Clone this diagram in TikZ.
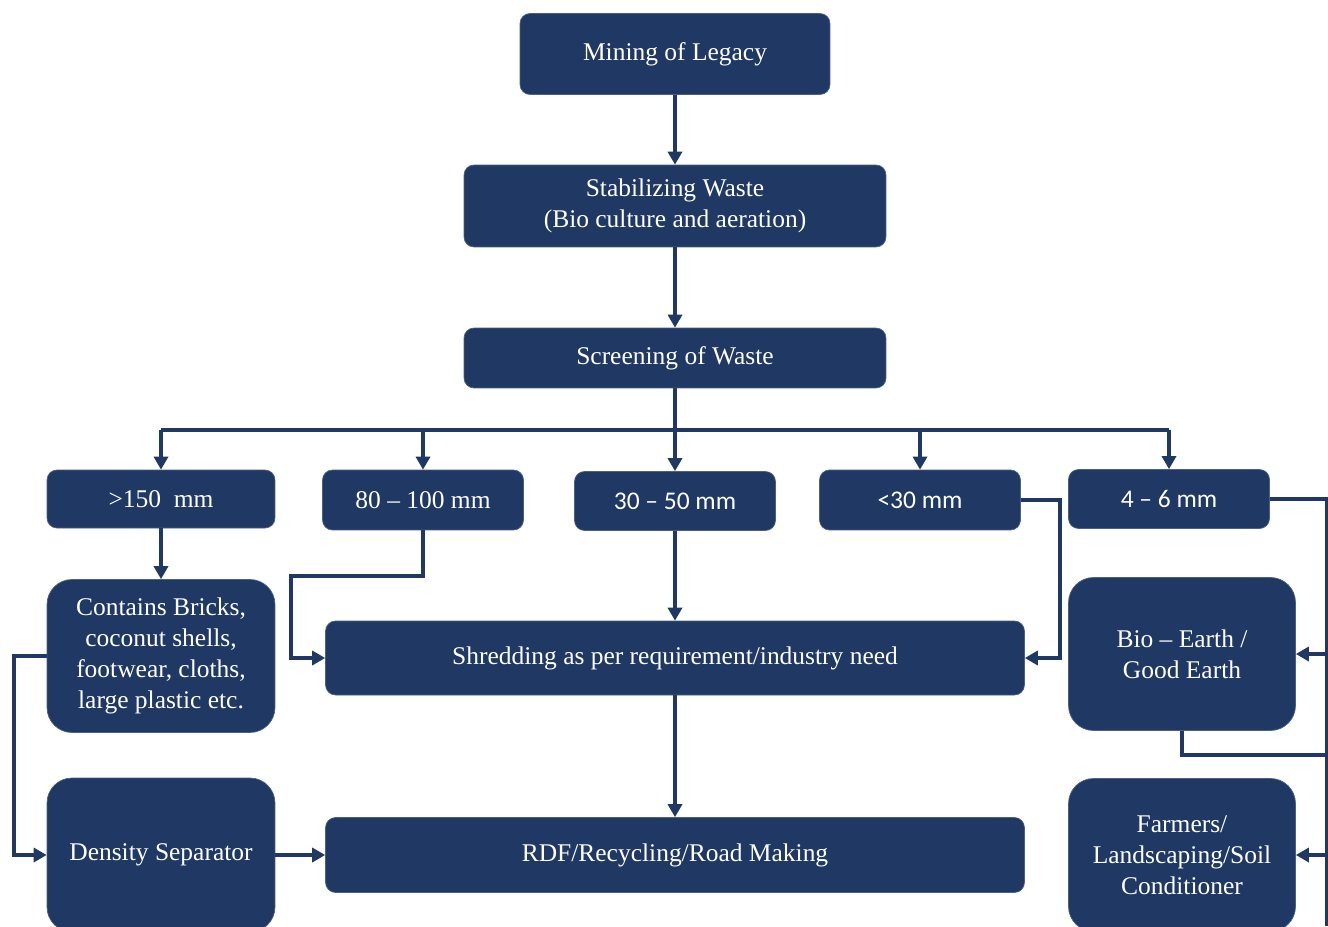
\documentclass[tikz,border=0pt]{standalone}
\usepackage{fontspec}
\setmainfont{Liberation Serif}
\newfontfamily\numfont{Carlito}
\usetikzlibrary{arrows.meta}
\definecolor{navy}{RGB}{31,56,100}

\begin{document}
\begin{tikzpicture}[x=0.02cm,y=-0.02cm,
    box/.style={fill=navy, draw=navy!80!white, rounded corners=0.2cm, text=white,
        align=center, inner sep=0pt, font=\fontsize{14.5}{17.5}\selectfont},
    bigbox/.style={box, rounded corners=0.5cm},
    numbox/.style={box, font=\numfont\fontsize{14.5}{17.5}\selectfont},
    link/.style={draw=navy, line width=2.2pt},
    >={Triangle[length=2.6mm,width=2.8mm]}]
    \clip (0,0) rectangle (1328,926);
    \fill[white] (0,0) rectangle (1328,926);

    \node[box, minimum width=6.2cm, minimum height=1.62cm] (mine) at (675,54) {Mining of Legacy};
    \node[box, minimum width=8.44cm, minimum height=1.64cm] (stab) at (675,206) {Stabilizing Waste\\(Bio culture and aeration)};
    \node[box, minimum width=8.44cm, minimum height=1.2cm] (screen) at (675,358) {Screening of Waste};

    \node[box, minimum width=4.56cm, minimum height=1.16cm] (big) at (161,499) {>150~ mm};
    \node[box, minimum width=4.02cm, minimum height=1.2cm] (mid) at (423,500) {80 – 100 mm};
    \node[numbox, minimum width=4.02cm, minimum height=1.18cm] (med) at (675,501) {30 – 50 mm};
    \node[numbox, minimum width=4.02cm, minimum height=1.2cm] (small) at (920,500) {<30 mm};
    \node[numbox, minimum width=4.02cm, minimum height=1.18cm] (fine) at (1169,499) {4 – 6 mm};

    \node[bigbox, minimum width=4.56cm, minimum height=3.06cm] (items) at (161,656) {Contains Bricks,\\coconut shells,\\footwear, cloths,\\large plastic etc.};
    \node[box, minimum width=13.98cm, minimum height=1.48cm] (shred) at (675,658) {Shredding as per requirement/industry need};
    \node[bigbox, minimum width=4.54cm, minimum height=3.06cm] (earth) at (1182,654) {Bio – Earth /\\Good Earth};

    \node[bigbox, minimum width=4.56cm, minimum height=3.08cm] (dens) at (161,855) {Density Separator};
    \node[box, minimum width=13.98cm, minimum height=1.5cm] (rdf) at (675,855) {RDF/Recycling/Road Making};
    \node[bigbox, minimum width=4.54cm, minimum height=3.06cm] (farm) at (1182,855) {Farmers/\\Landscaping/Soil\\Conditioner};

    \coordinate (bus) at (675,430);
    \coordinate (k1) at (291,576);
    \coordinate (k2) at (1060,500);
    \coordinate (k3) at (14,656);
    \coordinate (edge) at (1327,499);
    \coordinate (edgeB) at (1327,926);
    \coordinate (out) at (1330,755);

    \draw[link,->] (mine) -- (stab);
    \draw[link,->] (stab) -- (screen);
    \draw[link] (screen) -- (bus);
    \draw[link] (bus -| big) -- (bus -| fine);
    \foreach \n in {big,mid,med,small,fine}
        \draw[link,->] (bus -| \n) -- (\n);

    \draw[link,->] (big) -- (items);
    \draw[link,->] (mid) |- (k1) |- (shred);
    \draw[link,->] (med) -- (shred);
    \draw[link,->] (small) -- (k2) |- (shred);
    \draw[link,->] (items) -- (k3) |- (dens);
    \draw[link,->] (dens) -- (rdf);
    \draw[link,->] (shred) -- (rdf);

    \draw[link] (fine) -- (edge) -- (edgeB);
    \draw[link,->] (edge |- earth) -- (earth);
    \draw[link,->] (edge |- farm) -- (farm);
    \draw[link] (earth) |- (out);
\end{tikzpicture}
\end{document}
